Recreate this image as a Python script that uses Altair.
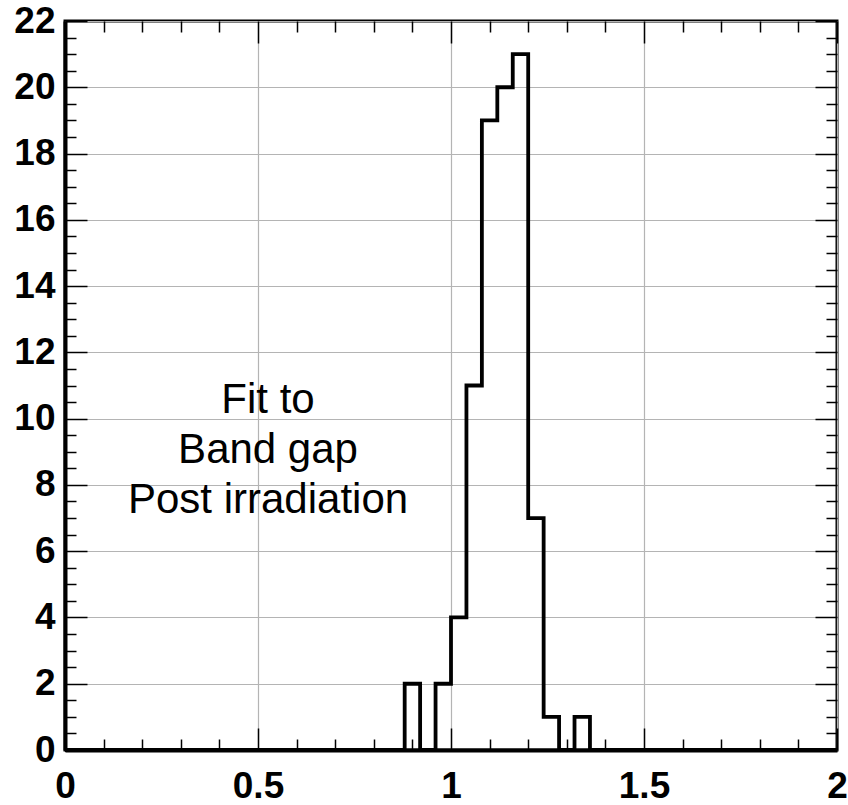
import altair as alt
import pandas as pd

# Histogram: 50 bins of width 0.04 from 0 to 2
bin_width = 0.04
counts = [0, 0, 0, 0, 0, 0, 0, 0, 0, 0,
          0, 0, 0, 0, 0, 0, 0, 0, 0, 0,
          0, 0, 2, 0, 2, 4, 11, 19, 20, 21,
          7, 1, 0, 1, 0, 0, 0, 0, 0, 0,
          0, 0, 0, 0, 0, 0, 0, 0, 0, 0]
x_edges = [round(i * bin_width, 2) for i in range(len(counts) + 1)]
y_step = counts + [counts[-1]]

x_label_vals = [0, 0.5, 1, 1.5, 2]
y_label_vals = [0, 2, 4, 6, 8, 10, 12, 14, 16, 18, 20, 22]
x_tick_vals = [round(i * 0.1, 1) for i in range(21)]
y_tick_vals = [i * 0.5 for i in range(45)]

text_lines = ["Fit to", "Band gap", "Post irradiation"]
text_x = [0.526, 0.526, 0.526]
text_y = [10.17, 8.66, 7.15]

df = pd.DataFrame({"x": x_edges, "y": y_step})
text_df = pd.DataFrame({"x": text_x, "y": text_y, "t": text_lines})

W, H = 772, 729
FONT = "Liberation Sans"
xscale = alt.Scale(domain=[0, 2], nice=False, zero=False)
yscale = alt.Scale(domain=[0, 22], nice=False, zero=False)

x_major = "abs(datum.value*2 - round(datum.value*2)) < 0.001"
y_major = "abs(datum.value/2 - round(datum.value/2)) < 0.001"


def label_axis(vals, fmt, pad):
    return alt.Axis(values=vals, format=fmt, labelFont=FONT, labelFontSize=37,
                    labelFontWeight="bold", labelColor="black", labelPadding=pad,
                    ticks=False, tickSize=0, domain=True, domainColor="black",
                    domainWidth=4, grid=True, gridColor="#b4b4b4", gridWidth=1.2,
                    title=None, labelFlush=False, labelOverlap=False)


def tick_axis(orient, offset, vals, test):
    return alt.Axis(orient=orient, offset=offset, values=vals, labels=False,
                    domain=False, grid=False, ticks=True, tickColor="black",
                    tickWidth=1.5,
                    tickSize={"condition": {"test": test, "value": 22}, "value": 11},
                    title=None)


hist = alt.Chart(df).mark_line(
    interpolate="step-after", color="black", strokeWidth=3.8, strokeJoin="miter"
).encode(
    x=alt.X("x:Q", scale=xscale, axis=label_axis(x_label_vals, "~g", 18)),
    y=alt.Y("y:Q", scale=yscale, axis=label_axis(y_label_vals, "d", 10)),
)

ticks1 = alt.Chart(df).mark_point(opacity=0).encode(
    x=alt.X("x:Q", scale=xscale, axis=tick_axis("top", -H, x_tick_vals, x_major)),
    y=alt.Y("y:Q", scale=yscale, axis=tick_axis("right", -W, y_tick_vals, y_major)),
)

ticks2 = alt.Chart(df).mark_point(opacity=0).encode(
    x=alt.X("x:Q", scale=xscale, axis=tick_axis("bottom", -H, x_tick_vals, x_major)),
    y=alt.Y("y:Q", scale=yscale, axis=tick_axis("left", -W, y_tick_vals, y_major)),
)

text = alt.Chart(text_df).mark_text(
    font=FONT, fontSize=42, align="center", baseline="alphabetic", color="black"
).encode(
    x=alt.X("x:Q", scale=xscale, axis=None),
    y=alt.Y("y:Q", scale=yscale, axis=None),
    text="t:N",
)

chart = alt.layer(ticks1, ticks2, hist, text).resolve_axis(
    x="independent", y="independent"
).properties(
    width=W, height=H,
    padding={"left": 65, "top": 21, "right": 11, "bottom": 55},
    autosize=alt.AutoSizeParams(type="none"),
    background="white",
).configure_view(stroke="black", strokeWidth=3)

chart.save("out.html", embed_options={"renderer": "svg", "actions": False})
